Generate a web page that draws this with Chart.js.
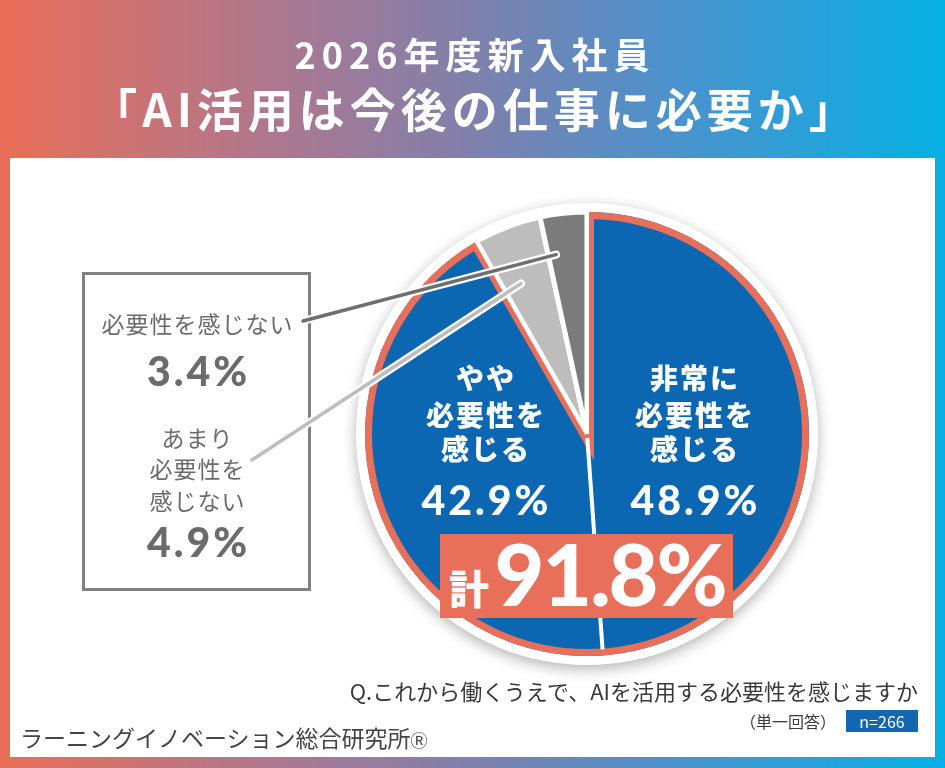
<!DOCTYPE html>
<html lang="ja">
<head>
<meta charset="utf-8">
<script src="https://cdn.jsdelivr.net/npm/chart.js@4.4.1/dist/chart.umd.min.js"></script>
<style>
  html,body{margin:0;padding:0;}
  #stage{position:relative;width:945px;height:768px;overflow:hidden;
    background:linear-gradient(90deg,#EA6E57 0%,#C4747A 18%,#A07A98 35%,#7F80AC 50%,#4E91CB 70%,#2AA0D8 85%,#04B0E2 100%);
    font-family:"Noto Sans CJK JP","Noto Sans",sans-serif;}
  #panel{position:absolute;left:10px;top:158px;width:925px;height:599px;background:#fff;}
  #box{position:absolute;left:82px;top:272px;width:229px;height:319px;border:3px solid #808080;box-sizing:border-box;}
  #c{position:absolute;left:0;top:0;}
  .t{position:absolute;white-space:nowrap;transform:translate(-50%,-50%);line-height:1;}
  .num{font-family:Lato,"Noto Sans",sans-serif;font-weight:900;}
</style>
</head>
<body>
<div id="stage">
  <div id="panel"></div>
  <div id="box"></div>
  <canvas id="c" width="945" height="768"></canvas>
  <div id="texts"></div>
</div>
<script>
// ---- data ----
const titleLines = ['2026年度新入社員', '「AI活用は今後の仕事に必要か」'];
const categories = ['非常に必要性を感じる', 'やや必要性を感じる', 'あまり必要性を感じない', '必要性を感じない'];
const values = [48.9, 42.9, 4.9, 3.4];
const sliceLabelLines = [['非常に', '必要性を', '感じる'], ['やや', '必要性を', '感じる'], ['あまり', '必要性を', '感じない'], ['必要性を感じない']];
const totalPrefix = '計';
const question = 'Q.これから働くうえで、AIを活用する必要性を感じますか';
const answerType = '（単一回答）';
const sampleSize = 'n=266';
const source = 'ラーニングイノベーション総合研究所';

// ---- styles ----
const BLUE = '#0B67B2', CORAL = '#E8705B', LGRAY = '#BDBDBD', DGRAY = '#7B7B7B';

const texts = document.getElementById('texts');
function addText(html, x, y, css) {
  const d = document.createElement('div');
  d.className = 't';
  d.innerHTML = html;
  d.style.left = x + 'px';
  d.style.top = y + 'px';
  d.style.cssText += css || '';
  texts.appendChild(d);
  return d;
}

// title
addText(titleLines[0], 472, 53, 'color:#fff;font-weight:700;font-size:36px;letter-spacing:6px;padding-left:6px;');
addText(titleLines[1], 473, 107, 'color:#fff;font-weight:700;font-size:46px;letter-spacing:5px;padding-left:5px;');

// labels inside the blue slices
const jpIn = 'color:#fff;font-weight:900;font-size:28px;letter-spacing:2px;padding-left:2px;';
const pctIn = 'color:#fff;font-size:41px;letter-spacing:3px;padding-left:3px;';
const insidePos = [[694], [485]];
[0, 1].forEach(i => {
  const x = insidePos[i][0];
  const ys = [377, 414, 448];
  sliceLabelLines[i].forEach((l, k) => addText(l, x, ys[k], jpIn));
  addText(values[i].toFixed(1) + '%', x, 499, pctIn).classList.add('num');
});

// labels in the side box
const gTxt = 'color:#6B6B6B;font-size:23px;letter-spacing:1px;padding-left:1px;';
const gPct = 'color:#6B6B6B;font-size:41px;letter-spacing:3px;padding-left:3px;';
addText(sliceLabelLines[3][0], 197, 323, gTxt);
addText(values[3].toFixed(1) + '%', 197, 370, gPct).classList.add('num');
const ys2 = [437, 468, 500];
sliceLabelLines[2].forEach((l, k) => addText(l, 197, ys2[k], gTxt));
addText(values[2].toFixed(1) + '%', 197, 541, gPct).classList.add('num');

// total box
const total = (values[0] + values[1]).toFixed(1);
const tb = document.createElement('div');
tb.style.cssText = 'position:absolute;left:440px;top:534px;width:293px;height:84px;background:' + CORAL + ';';
texts.appendChild(tb);
addText(totalPrefix, 469, 587, 'color:#fff;font-weight:900;font-size:40px;');
addText(total + '%', 610, 573, 'color:#fff;font-size:86px;letter-spacing:-2px;').classList.add('num');

// footer
const q = addText(question, 0, 690, 'color:#3A3A3A;font-size:22px;');
q.style.left = 'auto'; q.style.right = '27px'; q.style.transform = 'translateY(-50%)';
addText(answerType, 788, 721, 'color:#3A3A3A;font-size:16px;');
const nb = document.createElement('div');
nb.style.cssText = 'position:absolute;left:846px;top:710px;width:72px;height:22px;background:#1366B1;color:#fff;font-size:16px;line-height:22px;text-align:center;';
nb.textContent = sampleSize;
texts.appendChild(nb);
const src = addText(source + '<span style="font-size:17px;">Ⓡ</span>', 0, 737, 'color:#444;font-size:23px;');
src.style.left = '20px'; src.style.transform = 'translateY(-50%)';

// ---- chart ----
const decor = {
  id: 'decor',
  beforeDatasetsDraw(chart) {
    const a = chart.getDatasetMeta(0).data[0];
    const ctx = chart.ctx;
    ctx.save();
    ctx.shadowColor = 'rgba(0,0,0,0.3)';
    ctx.shadowBlur = 14;
    ctx.shadowOffsetY = 4;
    ctx.fillStyle = '#fff';
    ctx.beginPath();
    ctx.arc(a.x, a.y, a.outerRadius + 9, 0, Math.PI * 2);
    ctx.fill();
    ctx.restore();
  },
  afterDatasetsDraw(chart) {
    const d = chart.getDatasetMeta(0).data;
    const ctx = chart.ctx;
    const cx = d[0].x, cy = d[0].y, R = d[0].outerRadius;
    const s = d[0].startAngle, e = d[1].endAngle;
    const unionPath = () => { ctx.beginPath(); ctx.moveTo(cx, cy); ctx.arc(cx, cy, R, s, e); ctx.closePath(); };
    // coral outline of the combined "necessary" share
    ctx.save();
    unionPath(); ctx.clip();
    ctx.lineWidth = 14; ctx.strokeStyle = CORAL; ctx.lineJoin = 'miter';
    unionPath(); ctx.stroke();
    ctx.restore();
    // white gaps
    ctx.save();
    ctx.strokeStyle = '#fff'; ctx.lineCap = 'butt';
    const ray = (ang, w, r0, r1) => {
      ctx.lineWidth = w; ctx.beginPath();
      ctx.moveTo(cx + r0 * Math.cos(ang), cy + r0 * Math.sin(ang));
      ctx.lineTo(cx + r1 * Math.cos(ang), cy + r1 * Math.sin(ang));
      ctx.stroke();
    };
    ray(s, 4, 0, R + 1);
    ray(e, 4, 0, R + 1);
    ray(d[0].endAngle, 4, 4, R - 6);
    ctx.restore();
    // leader lines from the side box
    const leaders = [[3, 303, 321, 0.2, 0.82, '#6E6E6E'], [2, 252, 460, 0.35, 0.74, '#BDBDBD']];
    ctx.save();
    ctx.lineCap = 'round';
    leaders.forEach(([i, x0, y0, fa, fr, col]) => {
      const a = d[i];
      const ang = a.startAngle + (a.endAngle - a.startAngle) * fa;
      const x1 = cx + R * fr * Math.cos(ang), y1 = cy + R * fr * Math.sin(ang);
      ctx.beginPath(); ctx.moveTo(x0, y0); ctx.lineTo(x1, y1);
      ctx.strokeStyle = '#fff'; ctx.lineWidth = 8; ctx.stroke();
      ctx.strokeStyle = col; ctx.lineWidth = 3.5; ctx.stroke();
    });
    ctx.restore();
  }
};

new Chart(document.getElementById('c'), {
  type: 'pie',
  data: {
    labels: categories,
    datasets: [{
      data: values,
      backgroundColor: [BLUE, BLUE, LGRAY, DGRAY],
      borderColor: ['#fff', '#fff', '#fff', '#fff'],
      borderWidth: [0, 0, 5, 5],
      hoverBorderWidth: [0, 0, 5, 5],
      borderJoinStyle: 'miter'
    }]
  },
  options: {
    responsive: false,
    animation: false,
    events: [],
    radius: 222,
    layout: { padding: { left: 337, top: 184, right: 108, bottom: 84 } },
    plugins: { legend: { display: false }, tooltip: { enabled: false } }
  },
  plugins: [decor]
});
</script>
</body>
</html>
